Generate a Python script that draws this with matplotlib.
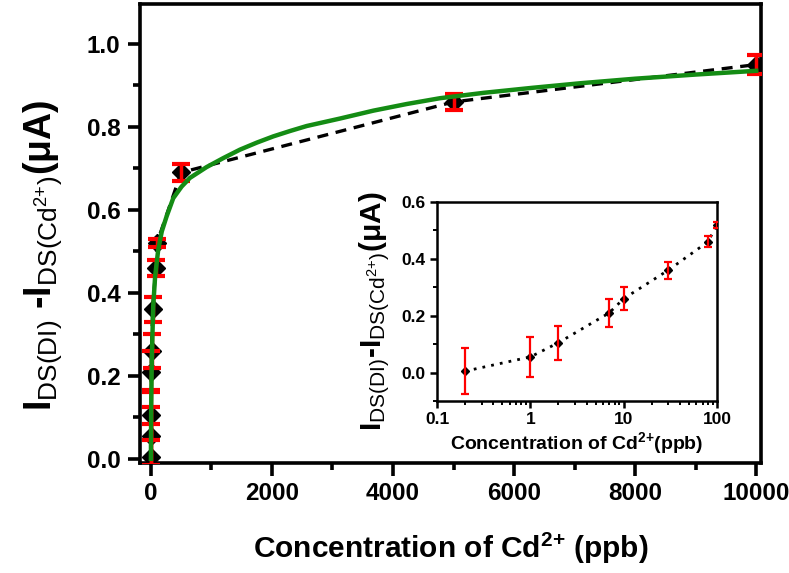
import matplotlib
matplotlib.use("Agg")
import matplotlib.pyplot as plt
from matplotlib.ticker import MultipleLocator, LogLocator, NullFormatter

plt.rcParams['font.family'] = ['Liberation Sans', 'DejaVu Sans']
plt.rcParams['mathtext.fontset'] = 'custom'
plt.rcParams['mathtext.rm'] = 'Liberation Sans'
plt.rcParams['mathtext.bf'] = 'Liberation Sans:bold'
plt.rcParams['mathtext.it'] = 'Liberation Sans:italic'
plt.rcParams['mathtext.default'] = 'rm'

# ---- data ----
conc = [0.2, 1, 2, 7, 10, 30, 80, 100, 500, 5000, 10000]
resp = [0.005, 0.055, 0.105, 0.21, 0.26, 0.36, 0.46, 0.52, 0.69, 0.86, 0.95]
err = [0.08, 0.07, 0.06, 0.05, 0.04, 0.03, 0.02, 0.01, 0.02, 0.02, 0.022]

fit_x = [0, 5, 15, 38, 70, 121, 180, 259, 369, 507, 645, 920, 1200, 1471,
         1750, 2022, 2300, 2574, 3124, 3675, 4226, 4777, 5500, 6300, 7091,
         8000, 9000, 10000]
fit_y = [0.0, 0.13, 0.24, 0.367, 0.44, 0.504, 0.548, 0.584, 0.628, 0.656,
         0.677, 0.703, 0.725, 0.745, 0.762, 0.777, 0.790, 0.802, 0.820,
         0.839, 0.855, 0.869, 0.882, 0.894, 0.905, 0.916, 0.926, 0.935]

in_conc = [0.2, 1, 2, 7, 10, 30, 80, 100]
in_resp = [0.005, 0.055, 0.105, 0.21, 0.26, 0.36, 0.46, 0.52]
in_err = [0.08, 0.07, 0.06, 0.05, 0.04, 0.03, 0.02, 0.01]

main_xticks = [0, 2000, 4000, 6000, 8000, 10000]
main_yticks = [0.0, 0.2, 0.4, 0.6, 0.8, 1.0]
in_yticks = [0.0, 0.2, 0.4, 0.6]

W, H = 789, 573
fig = plt.figure(figsize=(W / 100, H / 100), dpi=100)
fig.patch.set_facecolor('white')

ax = fig.add_axes([140 / W, 1 - 463 / H, 621 / W, 459 / H])
ax.plot(conc, resp, color='black', ls=(0, (3.3, 2.3)), lw=2.4, marker='D',
        markersize=9, markerfacecolor='black', markeredgecolor='black', zorder=2)
ax.errorbar(conc, resp, yerr=err, fmt='none', ecolor='red', elinewidth=2.5,
            capsize=6.5, capthick=3, zorder=3)
ax.plot(fit_x, fit_y, color='#148c14', lw=3.2, zorder=4)

ax.set_xlim(-180, 10080)
ax.set_ylim(-0.01, 1.096)
ax.set_xticks(main_xticks)
ax.set_yticks(main_yticks)
ax.set_xticklabels([str(v) for v in main_xticks])
ax.set_yticklabels([f'{v:.1f}' for v in main_yticks])
ax.xaxis.set_minor_locator(MultipleLocator(1000))
ax.yaxis.set_minor_locator(MultipleLocator(0.1))
for s in ax.spines.values():
    s.set_linewidth(2.6)
ax.tick_params(which='major', direction='out', length=9, width=2.6,
               labelsize=17.5, pad=5)
ax.tick_params(which='minor', direction='out', length=5, width=2.6)
for lab in ax.get_xticklabels() + ax.get_yticklabels():
    lab.set_fontweight('bold')

ax.set_xlabel(r'Concentration of Cd$^{\mathbf{2{+}}}$ (ppb)', fontsize=21.5,
              fontweight='bold', labelpad=18)
ax.set_ylabel(r'$\mathbf{I}_{\mathrm{DS(DI)}}$ -$\mathbf{I}_{\mathrm{DS(Cd^{2{+}})}}$(μA)',
              fontsize=27, fontweight='bold')
ax.yaxis.set_label_coords(-0.122, 0.453)

# ---- inset ----
ins = fig.add_axes([437 / W, 1 - 401 / H, 280 / W, 199 / H])
ins.plot(in_conc, in_resp, color='black', ls=(0, (1, 2.2)), lw=2.0, marker='D',
         markersize=4.5, markerfacecolor='black', markeredgecolor='black', zorder=2)
ins.errorbar(in_conc, in_resp, yerr=in_err, fmt='none', ecolor='red',
             elinewidth=1.6, capsize=3, capthick=1.6, zorder=3)
ins.set_xscale('log')
ins.set_xlim(0.1, 100)
ins.set_ylim(-0.1, 0.6)
ins.set_yticks(in_yticks)
ins.set_yticklabels([f'{v:.1f}' for v in in_yticks])
ins.set_xticks([0.1, 1, 10, 100])
ins.set_xticklabels(['0.1', '1', '10', '100'])
ins.xaxis.set_minor_locator(LogLocator(base=10, subs=range(2, 10)))
ins.xaxis.set_minor_formatter(NullFormatter())
ins.yaxis.set_minor_locator(MultipleLocator(0.1))
for s in ins.spines.values():
    s.set_linewidth(1.8)
ins.tick_params(which='major', direction='out', length=5, width=1.8,
                labelsize=12.5, pad=3)
ins.tick_params(which='minor', direction='out', length=3, width=1.4)
for lab in ins.get_xticklabels() + ins.get_yticklabels():
    lab.set_fontweight('bold')
ins.set_xlabel(r'Concentration of Cd$^{\mathbf{2{+}}}$(ppb)', fontsize=14,
               fontweight='bold', labelpad=2)
ins.set_ylabel(r'$\mathbf{I}_{\mathrm{DS(DI)}}$-$\mathbf{I}_{\mathrm{DS(Cd^{2{+}})}}$(μA)',
               fontsize=21.5, fontweight='bold')
ins.yaxis.set_label_coords(-0.161, 0.452)

fig.savefig('out.png', dpi=100, facecolor='white')
